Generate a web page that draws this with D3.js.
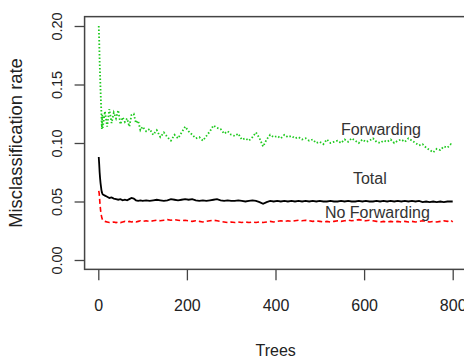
<!DOCTYPE html>
<html>
<head>
<meta charset="utf-8">
<script src="https://cdn.jsdelivr.net/npm/d3@7"></script>
<style>
  body { margin: 0; background: #fff; }
  svg { display: block; font-family: "Liberation Sans", Arial, sans-serif; }
</style>
</head>
<body>
<svg id="chart"></svg>
<script>
(function() {

// number of trees at each sample
const trees = [
  1, 2, 3, 4, 5, 6, 7, 8, 9,
  10, 15, 20, 25, 30, 35, 40, 45, 50, 55, 60, 65, 70, 75, 80, 85, 90, 95, 100,
  108, 116, 124, 132, 140, 148, 156, 164, 172, 180,
  188, 196, 204, 212, 220, 228, 236, 244, 252, 260,
  268, 276, 284, 292, 300, 308, 316, 324, 332, 340,
  348, 356, 364, 372, 380, 388, 396, 404, 412, 420,
  428, 436, 444, 452, 460, 468, 476, 484, 492, 500,
  508, 516, 524, 532, 540, 548, 556, 564, 572, 580,
  588, 596, 604, 612, 620, 628, 636, 644, 652, 660,
  668, 676, 684, 692, 700, 708, 716, 724, 732, 740,
  748, 756, 764, 772, 780, 788, 796, 800
];

const forwarding = [
  0.200, 0.188, 0.170, 0.158, 0.146, 0.135, 0.126, 0.112, 0.124,
  0.113, 0.127, 0.114, 0.129, 0.117, 0.126, 0.121, 0.128, 0.116, 0.122, 0.118, 0.121, 0.114, 0.124, 0.125, 0.117, 0.119, 0.111, 0.114,
  0.110, 0.112, 0.107, 0.111, 0.105, 0.109, 0.105, 0.102, 0.107, 0.104,
  0.109, 0.114, 0.110, 0.107, 0.104, 0.105, 0.102, 0.106, 0.110, 0.115,
  0.113, 0.112, 0.108, 0.110, 0.107, 0.106, 0.108, 0.103, 0.104, 0.102,
  0.105, 0.109, 0.104, 0.097, 0.103, 0.107, 0.105, 0.106, 0.104, 0.107,
  0.105, 0.106, 0.104, 0.105, 0.103, 0.104, 0.102, 0.103, 0.100, 0.101,
  0.099, 0.103, 0.100, 0.101, 0.102, 0.100, 0.103, 0.101, 0.104, 0.102,
  0.100, 0.103, 0.101, 0.102, 0.104, 0.101, 0.100, 0.102, 0.101, 0.103,
  0.100, 0.102, 0.103, 0.101, 0.104, 0.102, 0.100, 0.098, 0.099, 0.096,
  0.094, 0.092, 0.095, 0.094, 0.097, 0.096, 0.099, 0.098
];

const total = [
  0.088, 0.082, 0.075, 0.070, 0.066, 0.063, 0.060, 0.058, 0.057,
  0.056, 0.055, 0.054, 0.053, 0.0535, 0.0525, 0.052, 0.0515, 0.052, 0.051, 0.0515, 0.051, 0.052, 0.053, 0.0525, 0.051, 0.0505, 0.051, 0.0505,
  0.051, 0.0505, 0.051, 0.0515, 0.051, 0.0505, 0.051, 0.052, 0.0515, 0.051,
  0.0515, 0.052, 0.0515, 0.052, 0.051, 0.0505, 0.051, 0.0505, 0.051, 0.0515,
  0.052, 0.051, 0.0505, 0.051, 0.0505, 0.0505, 0.051, 0.0505, 0.050, 0.0505,
  0.051, 0.0505, 0.0495, 0.048, 0.0495, 0.0505, 0.050, 0.0505, 0.050, 0.0505,
  0.050, 0.0505, 0.050, 0.0505, 0.050, 0.0505, 0.050, 0.0505, 0.050, 0.0505,
  0.050, 0.050, 0.0505, 0.050, 0.050, 0.0505, 0.050, 0.0505, 0.050, 0.050,
  0.0505, 0.050, 0.0505, 0.050, 0.050, 0.0505, 0.050, 0.0505, 0.050, 0.0505,
  0.050, 0.0505, 0.050, 0.0505, 0.050, 0.0505, 0.050, 0.0505, 0.0495, 0.050,
  0.0495, 0.050, 0.0495, 0.050, 0.0495, 0.050, 0.050, 0.050
];

const noForwarding = [
  0.059, 0.057, 0.052, 0.047, 0.043, 0.040, 0.038, 0.036, 0.035,
  0.034, 0.033, 0.0325, 0.032, 0.032, 0.0325, 0.032, 0.0325, 0.032, 0.0325, 0.033, 0.0325, 0.033, 0.0325, 0.033, 0.0325, 0.033, 0.0335, 0.033,
  0.0335, 0.033, 0.0335, 0.034, 0.0335, 0.034, 0.0345, 0.034, 0.0345, 0.034,
  0.0335, 0.034, 0.0335, 0.033, 0.0335, 0.033, 0.0325, 0.033, 0.0335, 0.034,
  0.0335, 0.033, 0.0325, 0.032, 0.0325, 0.032, 0.0325, 0.032, 0.0325, 0.032,
  0.0325, 0.032, 0.0325, 0.032, 0.0325, 0.033, 0.0325, 0.033, 0.0335, 0.033,
  0.0335, 0.033, 0.0335, 0.034, 0.0335, 0.034, 0.0335, 0.033, 0.0335, 0.033,
  0.0325, 0.033, 0.0325, 0.033, 0.0335, 0.033, 0.0335, 0.034, 0.0335, 0.034,
  0.0345, 0.034, 0.0335, 0.034, 0.0335, 0.033, 0.0325, 0.033, 0.0325, 0.033,
  0.0325, 0.033, 0.0325, 0.033, 0.0325, 0.033, 0.0325, 0.033, 0.0335, 0.033,
  0.0325, 0.033, 0.0325, 0.033, 0.0335, 0.033, 0.034, 0.0325
];

const xTicks = [0, 200, 400, 600, 800];
const yTicks = [0, 0.05, 0.10, 0.15, 0.20];

// in-plot labels (data coordinates)
const labelNames = ["Forwarding", "Total", "No Forwarding"];
const labelTrees = [638, 613, 630];
const labelRates = [0.112, 0.070, 0.041];

const W = 464, H = 358;

const svg = d3.select("#chart")
    .attr("width", W)
    .attr("height", H);

svg.append("rect").attr("width", W).attr("height", H).attr("fill", "#fff");

const x = d3.scaleLinear().domain([0, 800]).range([98.3, 452.7]);
const y = d3.scaleLinear().domain([0, 0.2]).range([260, 26]);

// R style 4% extension of the plot region
const boxL = x(1 - 0.04 * 799), boxR = x(800 + 0.04 * 799);
const boxT = y(0.208), boxB = y(-0.008);

// lines
const makeLine = vals => d3.line()
    .x((d, i) => x(trees[i]))
    .y(d => y(d))(vals);

svg.append("path")
    .attr("d", makeLine(forwarding))
    .attr("fill", "none")
    .attr("stroke", "#1fca1f")
    .attr("stroke-width", 1.8)
    .attr("stroke-dasharray", "1.5,2");

svg.append("path")
    .attr("d", makeLine(total))
    .attr("fill", "none")
    .attr("stroke", "#000")
    .attr("stroke-width", 1.8);

svg.append("path")
    .attr("d", makeLine(noForwarding))
    .attr("fill", "none")
    .attr("stroke", "#FF0000")
    .attr("stroke-width", 1.6)
    .attr("stroke-dasharray", "5,3");

// box
svg.append("rect")
    .attr("x", boxL).attr("y", boxT)
    .attr("width", boxR - boxL).attr("height", boxB - boxT)
    .attr("fill", "none")
    .attr("stroke", "#444")
    .attr("stroke-width", 1.5);

// x axis
const gx = svg.append("g")
    .attr("transform", `translate(0,${boxB})`)
    .call(d3.axisBottom(x).tickValues(xTicks).tickSize(11).tickFormat(d3.format("d")));
gx.select(".domain").remove();
gx.selectAll(".tick line").attr("stroke", "#444").attr("stroke-width", 1.3);
gx.selectAll(".tick text")
    .attr("y", 30)
    .attr("dy", "0.71em")
    .attr("fill", "#222")
    .style("font-size", "16px")
    .style("font-family", "'Liberation Sans', Arial, sans-serif");

// y axis, labels rotated like base R
const gy = svg.append("g")
    .attr("transform", `translate(${boxL},0)`)
    .call(d3.axisLeft(y).tickValues(yTicks).tickSize(10).tickFormat(d3.format(".2f")));
gy.select(".domain").remove();
gy.selectAll(".tick line").attr("stroke", "#444").attr("stroke-width", 1.3);
gy.selectAll(".tick text")
    .attr("transform", "rotate(-90)")
    .attr("x", 0)
    .attr("y", -23)
    .attr("dy", 0)
    .attr("text-anchor", "middle")
    .attr("fill", "#222")
    .style("font-size", "14.5px")
    .style("font-family", "'Liberation Sans', Arial, sans-serif");

// axis titles
svg.append("text")
    .attr("x", (boxL + boxR) / 2)
    .attr("y", 356)
    .attr("text-anchor", "middle")
    .attr("fill", "#222")
    .style("font-size", "16px")
    .text("Trees");

svg.append("text")
    .attr("transform", `translate(22,${(boxT + boxB) / 2}) rotate(-90)`)
    .attr("text-anchor", "middle")
    .attr("fill", "#222")
    .style("font-size", "18.4px")
    .text("Misclassification rate");

// series labels
svg.selectAll("text.series")
    .data(labelNames)
    .join("text")
    .attr("class", "series")
    .attr("x", (d, i) => x(labelTrees[i]))
    .attr("y", (d, i) => y(labelRates[i]))
    .attr("dy", "0.35em")
    .attr("text-anchor", "middle")
    .attr("fill", "#333")
    .style("font-size", "16px")
    .text(d => d);

})();
</script>
</body>
</html>
